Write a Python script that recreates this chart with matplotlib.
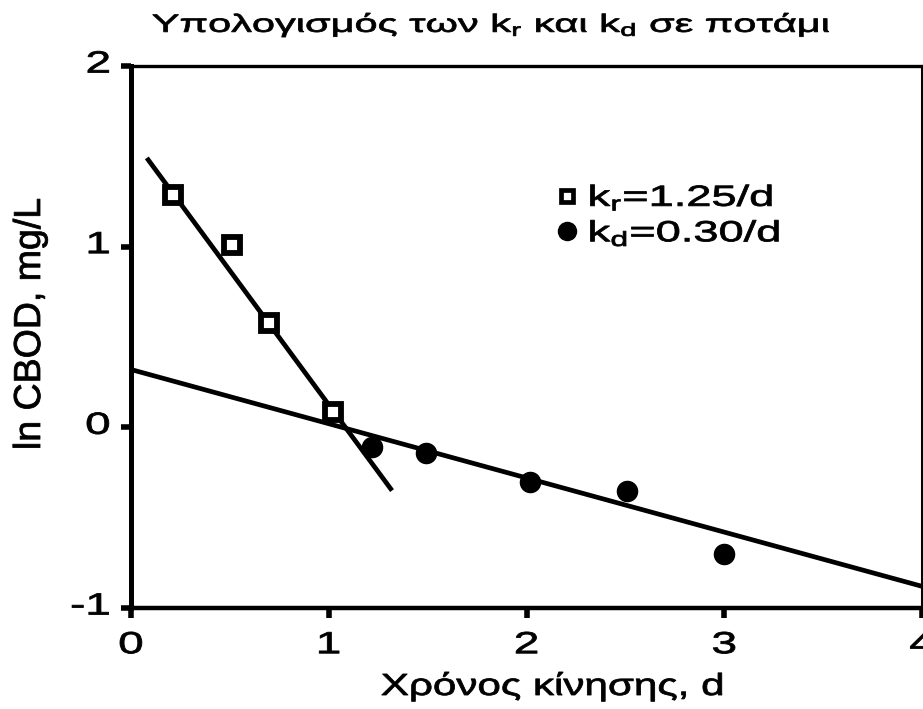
import numpy as np
import matplotlib
matplotlib.use('Agg')
import matplotlib.pyplot as plt
from matplotlib import patheffects
from matplotlib.lines import Line2D
from matplotlib.transforms import Affine2D, ScaledTranslation

plt.rcParams['font.family'] = ['Liberation Sans', 'DejaVu Sans']
plt.rcParams['mathtext.fontset'] = 'custom'
plt.rcParams['mathtext.rm'] = 'Liberation Sans'
plt.rcParams['mathtext.it'] = 'Liberation Sans'
plt.rcParams['axes.unicode_minus'] = False

# ln CBOD μετρήσεις
t_r = [0.21, 0.51, 0.70, 1.02]
ln_r = [1.285, 1.01, 0.58, 0.083]
t_d = [1.22, 1.49, 2.02, 2.51, 3.00]
ln_d = [-0.11, -0.14, -0.30, -0.355, -0.70]

# ευθείες προσαρμογής: (αρχή, τέλος, τεταγμένη, κλίση)
fit_r = (0.08, 1.32, 1.61, -1.485)
fit_d = (0.0, 4.0, 0.32, -0.30)

x_ticks = [0, 1, 2, 3, 4]
y_ticks = [-1, 0, 1, 2]

labels = [r'k$_\mathregular{r}$=1.25/d', r'k$_\mathregular{d}$=0.30/d']
title = r'Υπολογισμός των k$_\mathregular{r}$ και k$_\mathregular{d}$ σε ποτάμι'


class Widen(patheffects.AbstractPathEffect):
    """Πλατύτερα (και λίγο παχύτερα) γράμματα γύρω από σημείο αγκύρωσης."""

    def __init__(self, sx, anchor=0.5, lw=0.6):
        super().__init__()
        self.sx = sx
        self.anchor = anchor
        self.lw = lw

    def draw_path(self, renderer, gc, tpath, affine, rgbFace=None):
        ext = tpath.get_extents()
        x0 = ext.x0 + self.anchor * ext.width
        stretch = Affine2D().translate(-x0, 0).scale(self.sx, 1).translate(x0, 0)
        gc0 = renderer.new_gc()
        gc0.copy_properties(gc)
        gc0.set_linewidth(self.lw)
        gc0.set_foreground(rgbFace)
        renderer.draw_path(gc0, tpath, stretch + affine, rgbFace)
        gc0.restore()


W, H = 923, 709
fig = plt.figure(figsize=(W / 100, H / 100), dpi=100)
ax = fig.add_axes([131 / W, 101 / H, 791 / W, 542 / H])

for x0, x1, b, m in (fit_r, fit_d):
    xs = np.array([x0, x1])
    ax.plot(xs, b + m * xs, color='black', lw=3.4, solid_capstyle='butt',
            zorder=2, clip_on=False)

ax.plot(t_r, ln_r, ls='none', marker='s', ms=11.5, mfc='white', mec='black',
        mew=4.2, zorder=3)
ax.plot(t_d, ln_d, ls='none', marker='o', ms=14.5, mfc='black', mec='black', zorder=3)

handles = [Line2D([], [], ls='none', marker='s', ms=8.5, mfc='white', mec='black', mew=3.4),
           Line2D([], [], ls='none', marker='o', ms=13, mfc='black', mec='black')]
leg = ax.legend(handles, labels, loc='upper left', bbox_to_anchor=(555 / W, 1 - 182 / H),
                bbox_transform=fig.transFigure, frameon=False, fontsize=21,
                handlelength=0.8, handletextpad=0.35, labelspacing=0.16,
                borderpad=0, borderaxespad=0)
for txt in leg.get_texts():
    txt.set_path_effects([Widen(1.55, 0.0)])

ax.set_xlim(0, 4)
ax.set_ylim(-1, 2)
ax.set_xticks(x_ticks)
ax.set_yticks(y_ticks)
ax.tick_params(direction='out', length=7, width=4, labelsize=22)
ax.tick_params(axis='x', pad=9)
ax.tick_params(axis='y', pad=8)

for lbl in ax.get_xticklabels():
    lbl.set_path_effects([Widen(1.5, 0.5)])
lift = ScaledTranslation(0, 5 / 100, fig.dpi_scale_trans)
for lbl in ax.get_yticklabels():
    lbl.set_path_effects([Widen(1.5, 1.0)])
    lbl.set_transform(lbl.get_transform() + lift)

ax.spines['left'].set_linewidth(3.6)
ax.spines['bottom'].set_linewidth(3.2)
ax.spines['top'].set_linewidth(2.4)
ax.spines['right'].set_linewidth(2.2)

ax.set_xlabel('Χρόνος κίνησης, d', fontsize=22, va='baseline',
              path_effects=[Widen(1.38, 0.5)])
ax.xaxis.set_label_coords((552 - 131) / 791, (608 - 695) / 542)
ax.set_ylabel('ln CBOD, mg/L', fontsize=27, va='center',
              path_effects=[Widen(1.0, 0.5)])
ax.yaxis.set_label_coords((30 - 131) / 791, (608 - 324) / 542)
ax.set_title(title, fontsize=18, va='baseline', pad=0,
             x=(491.5 - 131) / 791, y=(608 - 32) / 542,
             path_effects=[Widen(1.66, 0.5)])

fig.savefig('out.png', dpi=100, facecolor='white')
